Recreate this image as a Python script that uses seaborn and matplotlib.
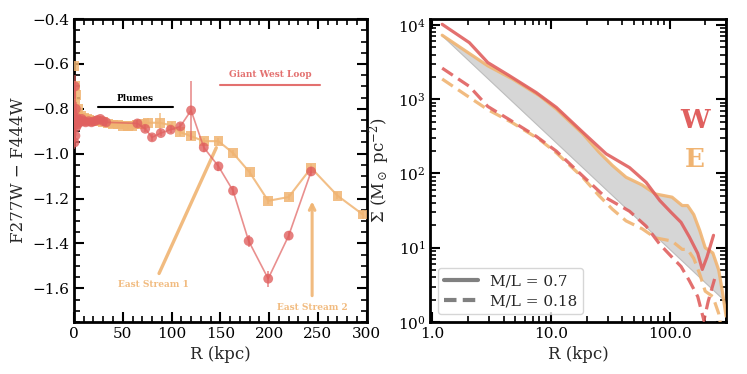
import numpy as np
import pandas as pd
import matplotlib
matplotlib.use("Agg")
import matplotlib.pyplot as plt
import seaborn as sns
from matplotlib.lines import Line2D
from matplotlib.ticker import MultipleLocator, LogLocator, FixedLocator, FuncFormatter, NullFormatter

sns.set_theme(style="ticks")
plt.rcParams['font.family'] = ['DejaVu Serif']
plt.rcParams['mathtext.fontset'] = 'dejavuserif'

RED = '#e0605f'
ORANGE = '#f0b472'

# ---------------- Left panel data: colour profiles ----------------
R_W = [0.5, 1.0, 1.5, 2.0, 2.5, 3.0, 3.5, 4.5, 6, 8, 10, 12, 15, 18, 21, 24, 27, 30, 33,
       65, 73, 80, 89, 99, 109, 120, 133, 148, 163, 179, 199, 220, 243]
C_W = [-0.95, -0.70, -0.92, -0.80, -0.88, -0.84, -0.87, -0.85, -0.86, -0.845, -0.855, -0.86,
       -0.855, -0.86, -0.855, -0.85, -0.845, -0.855, -0.86,
       -0.865, -0.889, -0.927, -0.908, -0.893, -0.878, -0.807, -0.972, -1.056, -1.165,
       -1.389, -1.557, -1.365, -1.079]
E_W = [0.03, 0.05, 0.03, 0.03, 0.02, 0.02, 0.02, 0.02, 0.02, 0.015, 0.015, 0.015, 0.015,
       0.015, 0.015, 0.015, 0.015, 0.015, 0.015,
       0.015, 0.015, 0.015, 0.015, 0.015, 0.015, 0.13, 0.02, 0.02, 0.02,
       0.025, 0.035, 0.02, 0.02]

R_E = [0.5, 1.0, 1.5, 2, 3, 4, 5, 7, 10, 13, 16, 20, 25, 30, 35, 40, 45, 50, 55, 60, 65, 70,
       76, 88, 100, 109, 120, 133, 148, 163, 180, 199, 220, 243, 270, 296]
C_E = [-0.61, -0.70, -0.78, -0.74, -0.82, -0.80, -0.84, -0.83, -0.84, -0.845, -0.85, -0.855,
       -0.855, -0.86, -0.865, -0.87, -0.87, -0.875, -0.875, -0.878, -0.87, -0.868,
       -0.862, -0.862, -0.874, -0.904, -0.922, -0.944, -0.944, -0.997, -1.083, -1.21,
       -1.193, -1.063, -1.187, -1.271]
E_E = [0.04, 0.04, 0.03, 0.03, 0.02, 0.02, 0.02, 0.02, 0.02, 0.015, 0.015, 0.015, 0.015,
       0.015, 0.015, 0.015, 0.015, 0.015, 0.015, 0.015, 0.015, 0.015,
       0.02, 0.045, 0.015, 0.015, 0.015, 0.015, 0.015, 0.015, 0.015, 0.015,
       0.015, 0.015, 0.015, 0.02]

# ---------------- Right panel data: mass surface density ----------------
RW_07 = [1.21, 2.05, 2.93, 4.47, 7.5, 11.1, 18.6, 29.2, 46, 63.5, 82.6, 103, 125, 147,
         173, 189, 207, 235]
SW_07 = [10200, 5780, 3120, 2070, 1232, 777, 358, 184, 120, 76, 43.4, 30, 22, 14,
         8.4, 5.1, 7.5, 14.7]
RW_018 = [1.21, 2.05, 2.93, 4.47, 7.5, 11.1, 18.6, 29.2, 46, 63.5, 82.6, 103, 125, 147,
          173, 195, 212, 240]
SW_018 = [2620, 1490, 800, 530, 317, 200, 92, 47, 31, 19.5, 11.2, 7.7, 5.6, 3.6,
          2.2, 1.05, 1.9, 3.8]

RE_07 = [1.21, 1.9, 2.93, 4.75, 8.0, 11.1, 18.6, 25.5, 33, 43, 58.8, 76, 105, 128, 142,
         160, 180, 200, 232, 260, 280, 300]
SE_07 = [7270, 4480, 2820, 1870, 1115, 738, 341, 193, 128, 89, 70, 53, 48, 37, 37,
         28, 17, 10, 8.5, 5.0, 2.5, 1.2]
RE_018 = [1.21, 1.9, 2.93, 4.75, 8.0, 11.1, 18.6, 25.5, 33, 43, 58.8, 76, 105, 128, 142,
          160, 180, 200, 232, 260, 280, 300]
SE_018 = [1870, 1150, 725, 480, 287, 190, 88, 50, 33, 23, 18, 13.6, 12.3, 9.5, 9.5,
          7.2, 4.4, 2.6, 2.2, 1.3, 0.64, 0.31]

# power-law reference edge of the grey band (end points)
R_REF = [1.21, 300]
S_REF = [7150, 1.85]

ML_LABELS = ['M/L = 0.7', 'M/L = 0.18']

fig = plt.figure(figsize=(7.47, 3.74), dpi=100)
ax1 = fig.add_axes([0.099, 0.139, 0.392, 0.810])
ax2 = fig.add_axes([0.576, 0.139, 0.396, 0.810])

# ---- left panel ----
dfW = pd.DataFrame({'R': R_W, 'C': C_W})
dfE = pd.DataFrame({'R': R_E, 'C': C_E})

sns.lineplot(data=dfE, x='R', y='C', ax=ax1, sort=False, color=ORANGE, lw=1.5,
             alpha=0.85, zorder=2)
ax1.errorbar(R_E, C_E, yerr=E_E, fmt='none', ecolor=ORANGE, elinewidth=1.2, alpha=0.8, zorder=2)
sns.scatterplot(data=dfE, x='R', y='C', ax=ax1, marker='s', s=50, color=ORANGE,
                edgecolor='none', alpha=0.85, zorder=3)

sns.lineplot(data=dfW, x='R', y='C', ax=ax1, sort=False, color=RED, lw=1.2,
             alpha=0.7, zorder=4)
ax1.errorbar(R_W, C_W, yerr=E_W, fmt='none', ecolor=RED, elinewidth=1.2, alpha=0.7, zorder=4)
sns.scatterplot(data=dfW, x='R', y='C', ax=ax1, marker='o', s=50, color=RED,
                edgecolor='none', alpha=0.8, zorder=5)

ax1.set_xlim(0, 300)
ax1.set_ylim(-1.75, -0.4)
ax1.set_xlabel('R (kpc)', fontsize=12)
ax1.set_ylabel('F277W − F444W', fontsize=12)
ax1.xaxis.set_major_locator(MultipleLocator(50))
ax1.xaxis.set_minor_locator(MultipleLocator(10))
ax1.yaxis.set_major_locator(MultipleLocator(0.2))
ax1.yaxis.set_minor_locator(MultipleLocator(0.05))
ax1.yaxis.set_major_formatter(FuncFormatter(lambda v, p: f'{v:.1f}'.replace('-', '\u2212')))

# annotations
ax1.plot([25, 101], [-0.792, -0.792], color='black', lw=1.5)
ax1.text(63, -0.752, 'Plumes', ha='center', va='center', fontsize=6.5,
         fontweight='bold', color='black')
ax1.plot([150, 252], [-0.695, -0.695], color=RED, lw=1.5, alpha=0.9)
ax1.text(201, -0.648, 'Giant West Loop', ha='center', va='center', fontsize=6.5,
         fontweight='bold', color=RED, alpha=0.9)
ax1.annotate('', xy=(147, -0.962), xytext=(86, -1.545),
             arrowprops=dict(arrowstyle='-', color=ORANGE, lw=2.4, alpha=0.9))
ax1.text(81, -1.583, 'East Stream 1', ha='center', va='center', fontsize=6.5,
         fontweight='bold', color=ORANGE, alpha=0.9)
ax1.annotate('', xy=(244, -1.2), xytext=(244, -1.645),
             arrowprops=dict(arrowstyle='->', color=ORANGE, lw=2.2, alpha=0.9,
                             mutation_scale=10))
ax1.text(244, -1.685, 'East Stream 2', ha='center', va='center', fontsize=6.5,
         fontweight='bold', color=ORANGE, alpha=0.9)

# ---- right panel ----
band_x = list(RE_07) + R_REF[::-1]
band_y = list(SE_07) + S_REF[::-1]
ax2.fill(band_x, band_y, color='#d6d6d6', lw=0, zorder=1)
ax2.plot(R_REF, S_REF, color='#bdbdbd', lw=0.8, zorder=1)

sns.lineplot(x=RE_07, y=SE_07, ax=ax2, sort=False, color=ORANGE, lw=2.3, alpha=0.9, zorder=3)
sns.lineplot(x=RW_07, y=SW_07, ax=ax2, sort=False, color=RED, lw=2.3, alpha=0.9, zorder=4)
sns.lineplot(x=RE_018, y=SE_018, ax=ax2, sort=False, color=ORANGE, lw=2.3, alpha=0.9,
             zorder=3, linestyle=(0, (4, 2)))
sns.lineplot(x=RW_018, y=SW_018, ax=ax2, sort=False, color=RED, lw=2.3, alpha=0.9,
             zorder=4, linestyle=(0, (4, 2)))

ax2.set_xscale('log')
ax2.set_yscale('log')
ax2.set_xlim(0.96, 300)
ax2.set_ylim(1, 1.2e4)
ax2.xaxis.set_major_locator(FixedLocator([1, 10, 100]))
ax2.xaxis.set_major_formatter(FuncFormatter(lambda v, p: f'{v:.1f}'))
ax2.xaxis.set_minor_locator(LogLocator(base=10, subs=np.arange(2, 10), numticks=20))
ax2.xaxis.set_minor_formatter(NullFormatter())
ax2.yaxis.set_major_locator(LogLocator(base=10, numticks=10))
ax2.yaxis.set_minor_locator(LogLocator(base=10, subs=np.arange(2, 10), numticks=20))
ax2.yaxis.set_minor_formatter(NullFormatter())
ax2.set_xlabel('R (kpc)', fontsize=12)
ax2.set_ylabel(r'$\Sigma$ (M$_\odot$ pc$^{-2}$)', fontsize=12)

ax2.text(0.895, 0.665, 'W', transform=ax2.transAxes, ha='center', va='center',
         fontsize=19, fontweight='bold', color=RED)
ax2.text(0.895, 0.535, 'E', transform=ax2.transAxes, ha='center', va='center',
         fontsize=19, fontweight='bold', color=ORANGE)

handles = [Line2D([], [], color='gray', lw=3),
           Line2D([], [], color='gray', lw=3, linestyle=(0, (3, 1.5)))]
ax2.legend(handles, ML_LABELS, loc='lower left', fontsize=11, frameon=True,
           handlelength=2.2, borderpad=0.4, labelspacing=0.4)

for ax in (ax1, ax2):
    ax.xaxis.set_ticks_position('both')
    ax.yaxis.set_ticks_position('both')
    ax.tick_params(which='both', direction='in', top=True, right=True, labelsize=11,
                   colors='black')
    ax.tick_params(which='major', length=7, width=1.5)
    ax.tick_params(which='minor', length=4, width=1.2)
    for sp in ax.spines.values():
        sp.set_linewidth(2)
        sp.set_color('black')

fig.savefig('out.png', dpi=100)
